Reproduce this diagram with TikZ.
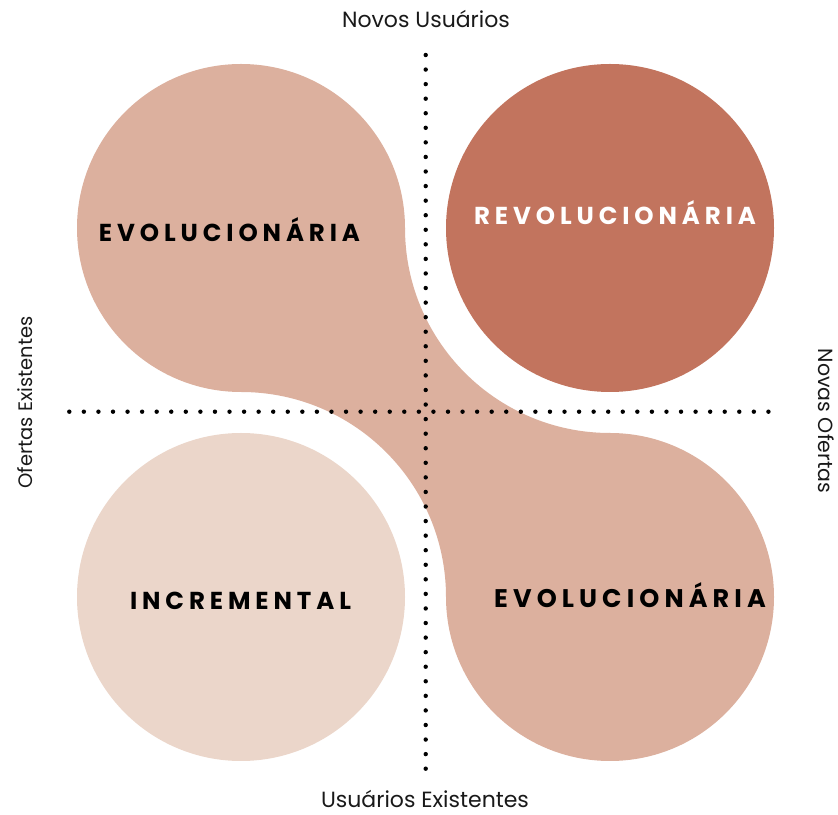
\documentclass[tikz,border=0pt]{standalone}
\usepackage{fontspec}
\setmainfont{Poppins}
\newfontfamily\capsfont[LetterSpace=20]{Poppins}
\definecolor{blob}{HTML}{DCB09E}
\definecolor{revo}{HTML}{C2745E}
\definecolor{incr}{HTML}{EBD6CA}
\begin{document}
\begin{tikzpicture}[x=1pt,y=1pt,
  disc/.style={circle,minimum size=328pt,inner sep=0pt,draw=none},
  quad/.style={font=\capsfont\bfseries\fontsize{24.5}{25}\selectfont,text=black,inner sep=0pt,anchor=base},
  axislabel/.style={font=\fontsize{22}{22}\selectfont,text=black!90,inner sep=0pt,anchor=base},
  dotline/.style={line width=4.4pt,line cap=round,dash pattern=on 0pt off 14.565pt}]
\useasboundingbox (0,0) rectangle (838,814);
% band joining the two evolutionary discs
\fill[blob] (241,586) -- (405,586) arc[start angle=180,end angle=270,radius=205]
  -- (610,217) -- (446,217) arc[start angle=0,end angle=90,radius=205] -- cycle;
% quadrant discs
\node[disc,fill=blob] (tl) at (241,586) {};
\node[disc,fill=revo] (tr) at (610,586) {};
\node[disc,fill=incr] (bl) at (241,217) {};
\node[disc,fill=blob] (br) at (610,217) {};
% axes
\coordinate (vtop) at (425.7,759);
\coordinate (vbot) at (425.7,45);
\coordinate (hleft) at (69.3,402.3);
\coordinate (hright) at (782.7,402.3);
\draw[dotline] (vtop) -- (vbot);
\draw[dotline] (hleft) -- (hright);
% quadrant labels
\node[quad] (ltl) at (229.5,572.3) {EVOLUCIONÁRIA};
\node[quad,text=white] (ltr) at (615,589) {REVOLUCIONÁRIA};
\node[quad] (lbl) at (240.5,204) {INCREMENTAL};
\node[quad,font=\capsfont\bfseries\fontsize{25.5}{26}\selectfont] (lbr) at (630,206) {EVOLUCIONÁRIA};
% axis labels
\node[axislabel] (top) at (426,786) {Novos Usuários};
\node[axislabel] (bottom) at (425,6.5) {Usuários Existentes};
\node[axislabel,font=\fontsize{19.5}{20}\selectfont,rotate=90] (left) at (32,411.5) {Ofertas Existentes};
\node[axislabel,font=\fontsize{20.5}{21}\selectfont,rotate=-90] (right) at (818,393) {Novas Ofertas};
\end{tikzpicture}
\end{document}
